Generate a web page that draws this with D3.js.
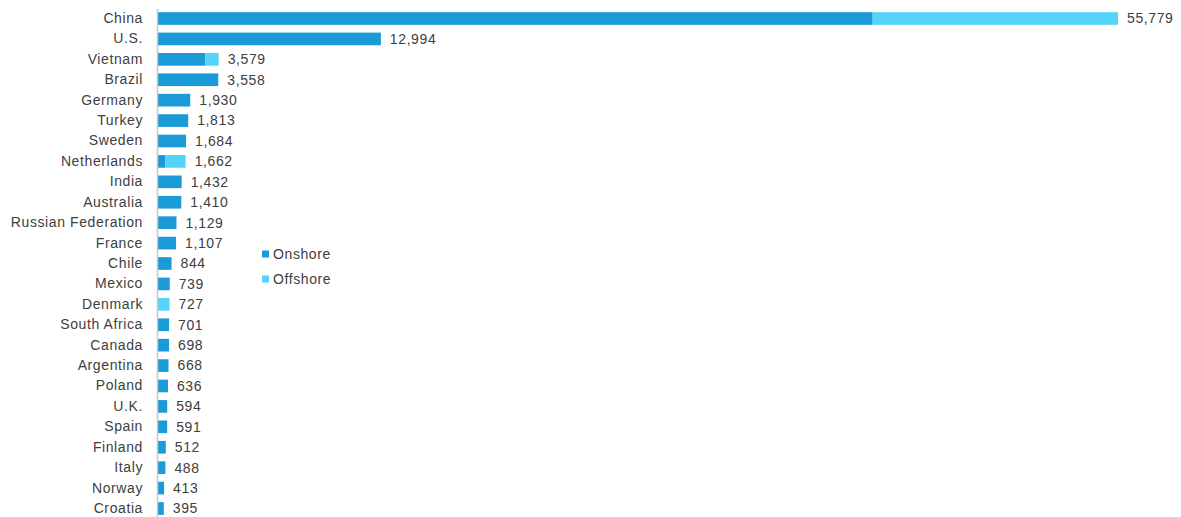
<!DOCTYPE html>
<html>
<head>
<meta charset="utf-8">
<script src="https://cdn.jsdelivr.net/npm/d3@7"></script>
<style>
  html, body { margin: 0; padding: 0; background: #ffffff; }
  svg { display: block; }
  text { font-family: "Liberation Sans", Arial, sans-serif; fill: #404040; letter-spacing: 0.6px; }
</style>
</head>
<body>
<svg id="chart" width="1181" height="517"></svg>
<script>
// Installed wind capacity by country (MW), split into onshore and offshore
const countries = ["China", "U.S.", "Vietnam", "Brazil", "Germany", "Turkey", "Sweden",
  "Netherlands", "India", "Australia", "Russian Federation", "France", "Chile", "Mexico",
  "Denmark", "South Africa", "Canada", "Argentina", "Poland", "U.K.", "Spain", "Finland",
  "Italy", "Norway", "Croatia"];
const onshore = [41540, 12994, 2800, 3558, 1930, 1813, 1684, 470, 1432, 1410, 1129, 1107,
  844, 739, 0, 701, 698, 668, 636, 594, 591, 512, 488, 413, 395];
const offshore = [14239, 0, 779, 0, 0, 0, 0, 1192, 0, 0, 0, 0, 0, 0, 727, 0, 0, 0, 0, 0,
  0, 0, 0, 0, 0];
const seriesNames = ["Onshore", "Offshore"];
const seriesColors = ["#1a9ad6", "#55d3f8"];

const rows = countries.map((c, i) => ({
  country: c, onshore: onshore[i], offshore: offshore[i], total: onshore[i] + offshore[i]
}));

const svg = d3.select("#chart");
const x = d3.scaleLinear().domain([0, d3.max(rows, d => d.total)]).range([157, 1118]);
const y = d3.scaleBand().domain(countries).range([8.3, 518.7])
  .paddingInner(0.38).paddingOuter(0.19);

const stack = d3.stack().keys(["onshore", "offshore"]);
const layers = stack(rows);

svg.append("g").selectAll("g")
  .data(layers)
  .join("g")
  .attr("fill", (d, i) => seriesColors[i])
  .selectAll("rect")
  .data(d => d)
  .join("rect")
  .attr("x", d => x(d[0]))
  .attr("y", d => y(d.data.country))
  .attr("width", d => Math.max(0, x(d[1]) - x(d[0])))
  .attr("height", y.bandwidth());

// Category axis
const axis = svg.append("g")
  .attr("transform", "translate(157,0)")
  .call(d3.axisLeft(y).tickSize(0).tickPadding(14));
axis.select(".domain").attr("stroke", "#c8c8c8").attr("stroke-width", 1.5);
axis.selectAll("text")
  .style("font-family", "'Liberation Sans', Arial, sans-serif")
  .style("font-size", "14px")
  .attr("fill", "#404040");

// Total labels
svg.append("g").selectAll("text")
  .data(rows)
  .join("text")
  .attr("x", d => x(d.total) + 9)
  .attr("y", d => y(d.country) + y.bandwidth() / 2)
  .attr("dy", "0.35em")
  .style("font-size", "14px")
  .text(d => d3.format(",")(d.total));

// Legend
const legend = svg.append("g").attr("transform", "translate(262,254)");
seriesNames.forEach((name, i) => {
  const g = legend.append("g").attr("transform", `translate(0,${i * 25})`);
  g.append("rect").attr("x", 0).attr("y", -3.5).attr("width", 7).attr("height", 7)
    .attr("fill", seriesColors[i]);
  g.append("text").attr("x", 11).attr("y", 0).attr("dy", "0.35em")
    .style("font-size", "14px").text(name);
});
</script>
</body>
</html>
